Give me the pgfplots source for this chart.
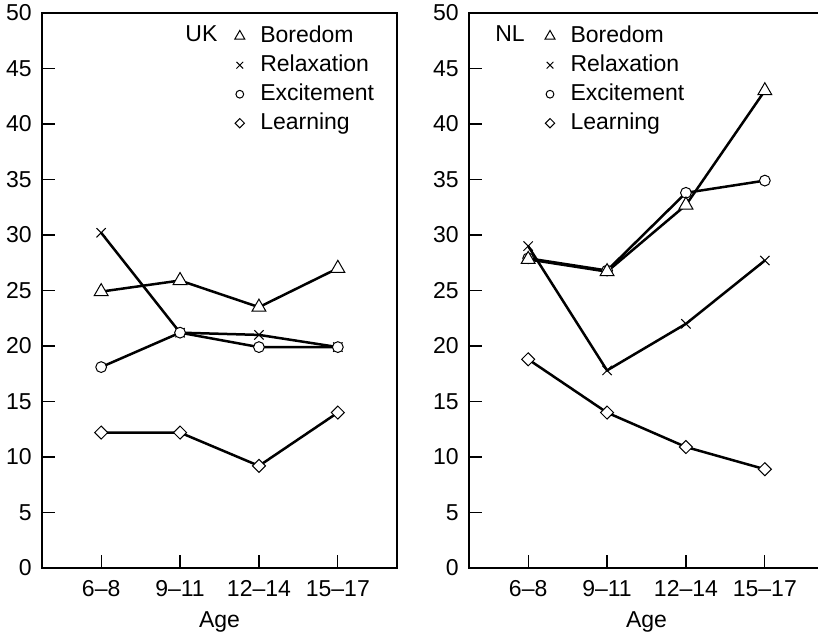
\documentclass[border=0pt]{standalone}
\usepackage{fontspec}
\setmainfont{Liberation Sans}
\usepackage{pgfplots}
\pgfplotsset{compat=1.18}
\begin{document}
\fontsize{11.5}{13}\selectfont
\begin{tikzpicture}
\pgfplotsset{
  panel/.style={
    scale only axis, width=177.5pt, height=277.5pt,
    anchor=south west,
    xmin=-0.75, xmax=3.75, ymin=0, ymax=50,
    xtick={0,1,2,3}, xticklabels={6--8,9--11,12--14,15--17},
    ytick={0,5,...,50},
    tick align=inside, tick pos=left,
    major tick length=6.5pt,
    tick style={line width=0.6pt, black},
    axis line style={line width=0.7pt},
    /pgf/number format/assume math mode=true,
    tick label style={font=\fontsize{11.5}{13}\selectfont},
    xticklabel style={anchor=base, yshift=-14.5pt},
    yticklabel style={xshift=-1.1pt},
    xlabel={Age},
    xlabel style={font=\fontsize{11.5}{13}\selectfont, at={(axis description cs:0.5,0)}, anchor=base, yshift=-30pt},
    every axis plot/.append style={line width=1.25pt, black},
    legend cell align=left,
    legend image code/.code={\draw[##1, only marks, every mark/.append style={scale=0.72}] plot coordinates {(0pt,0pt)};},
    legend style={draw=none, fill=none, inner sep=0pt, anchor=north west,
      column sep=5.5pt, row sep=0pt,
      font=\fontsize{11.5}{13}\selectfont,
      nodes={text height=8pt, text depth=2pt, inner sep=2.25pt}},
  },
  bor/.style={mark=triangle*, mark size=4pt, mark options={solid, fill=white, line width=0.5pt}},
  rel/.style={mark=x, mark size=3.3pt, mark options={solid, line width=0.5pt}},
  exc/.style={mark=*, mark size=2.7pt, mark options={solid, fill=white, line width=0.5pt}},
  lea/.style={mark=square*, mark size=2.3pt, mark options={solid, fill=white, line width=0.5pt, rotate=45}},
}
\useasboundingbox (0,0) rectangle (409pt,317.5pt);

\begin{axis}[panel, at={(21pt,33.5pt)},
  legend style={at={(axis description cs:0.542,0.985)}}]
\addplot[bor] coordinates {(0,24.9) (1,25.9) (2,23.5) (3,27.0)};
\addplot[rel] coordinates {(0,30.2) (1,21.2) (2,21.0) (3,19.9)};
\addplot[exc] coordinates {(0,18.1) (1,21.2) (2,19.9) (3,19.9)};
\addplot[lea] coordinates {(0,12.2) (1,12.2) (2,9.2) (3,14.0)};
\legend{Boredom,Relaxation,Excitement,Learning}
\node[anchor=base west, inner sep=0pt] at (axis description cs:0.403,0.948) {UK};
\end{axis}

\begin{axis}[panel, at={(234.5pt,33.5pt)},
  legend style={at={(axis description cs:0.213,0.985)}}]
\addplot[rel, forget plot] coordinates {(0,29.0) (1,17.8) (2,22.0) (3,27.7)};
\addplot[exc, forget plot] coordinates {(0,27.9) (1,26.8) (2,33.8) (3,34.9)};
\addplot[bor, forget plot] coordinates {(0,27.8) (1,26.7) (2,32.7) (3,43.0)};
\addplot[lea, forget plot] coordinates {(0,18.8) (1,14.0) (2,10.9) (3,8.9)};
\addlegendimage{bor}\addlegendentry{Boredom}
\addlegendimage{rel}\addlegendentry{Relaxation}
\addlegendimage{exc}\addlegendentry{Excitement}
\addlegendimage{lea}\addlegendentry{Learning}
\node[anchor=base west, inner sep=0pt] at (axis description cs:0.073,0.948) {NL};
\end{axis}
\end{tikzpicture}
\end{document}
